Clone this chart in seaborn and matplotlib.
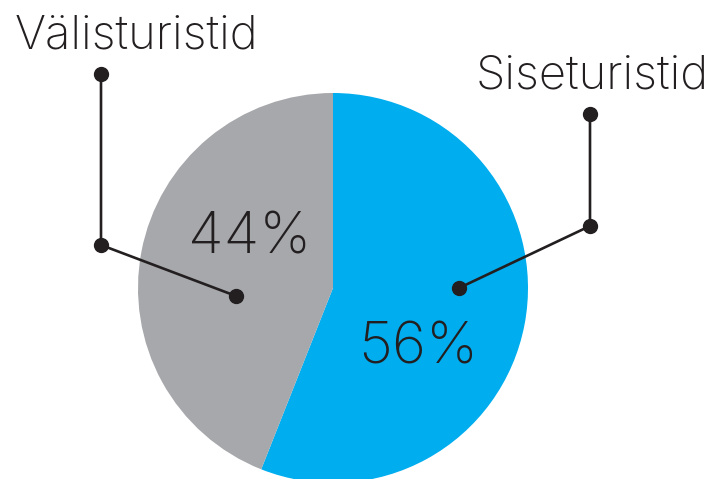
import matplotlib
matplotlib.use("Agg")
import matplotlib.pyplot as plt
import seaborn as sns

# data
labels = ["Siseturistid", "Välisturistid"]
shares = [56, 44]
colors = ["#00adee", "#a7a8ac"]

sns.set_theme(style="white")
plt.rcParams["font.family"] = ["Inter", "DejaVu Sans"]

W, H = 716, 479
fig = plt.figure(figsize=(W / 100, H / 100), dpi=100)
ax = fig.add_axes([0, 0, 1, 1])


def py(y):
    # image y (down) -> axes y (up)
    return H - y


ax.pie(shares, colors=colors, startangle=90, counterclock=False,
       center=(333, py(288)), radius=195, frame=True,
       wedgeprops=dict(linewidth=0))
ax.set_xlim(0, W)
ax.set_ylim(0, H)
ax.set_aspect("equal")
ax.axis("off")

ink = "#231f20"

# leader lines
leaders = [
    ([590, 590, 459], [114, 226, 288]),
    ([101, 101, 236], [74, 245, 296]),
]
for xs, ys in leaders:
    ax.plot(xs, [py(v) for v in ys], color=ink, lw=1.9, marker="o",
            markersize=10, solid_capstyle="round", zorder=5)

# category labels
ax.text(592, py(88), labels[0], fontsize=34, fontweight="light",
        color=ink, ha="center", va="baseline")
ax.text(136, py(48), labels[1], fontsize=34, fontweight="light",
        color=ink, ha="center", va="baseline")

# percentage labels
ax.text(418, py(363), f"{shares[0]}%", fontsize=42, fontweight="light",
        color=ink, ha="center", va="baseline")
ax.text(250, py(253), f"{shares[1]}%", fontsize=42, fontweight="light",
        color=ink, ha="center", va="baseline")

fig.savefig("out.png", dpi=100)
